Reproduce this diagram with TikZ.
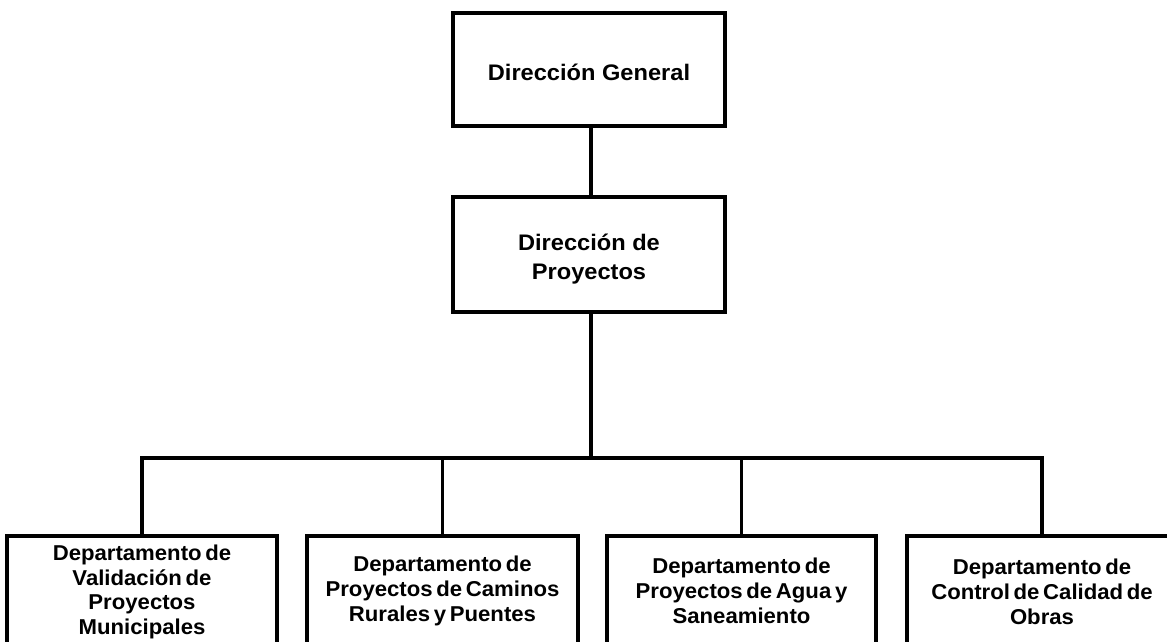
\documentclass[tikz,border=0pt]{standalone}
\usepackage{fontspec}
\setmainfont{Liberation Sans}[FakeStretch=1.05]
\newfontfamily\deptfont{Liberation Sans}[FakeStretch=1.03,WordSpace=0.6]
\begin{document}
\begin{tikzpicture}[x=1pt,y=-1pt,
  box/.style={draw=black,line width=3.8pt,fill=none,inner sep=0pt},
  toptext/.style={font=\fontsize{22.5}{29}\selectfont\bfseries,align=center},
  deptext/.style={font=\deptfont\fontsize{21.5}{24.8}\selectfont\bfseries,align=center},
  conn/.style={draw=black,line width=3.8pt}]
\useasboundingbox (0,0) rectangle (1167,642);
\clip (0,0) rectangle (1167,642);
% top boxes
\node[box,minimum width=272pt,minimum height=113pt] (g) at (589,69.5) {};
\node[toptext] (gt) at (589,72) {Dirección General};
\node[box,minimum width=272pt,minimum height=115pt] (p) at (589,254.5) {};
\node[toptext] (pt) at (589,259) {Dirección de\\Proyectos};
% bottom boxes (cut by the lower edge)
\node[box,anchor=north,minimum width=270pt,minimum height=140pt] (d1) at (142,534) {};
\node[box,anchor=north,minimum width=271pt,minimum height=140pt] (d2) at (442.5,534) {};
\node[box,anchor=north,minimum width=269pt,minimum height=140pt] (d3) at (741.5,534) {};
\node[box,anchor=north,minimum width=270pt,minimum height=140pt] (d4) at (1042,534) {};
\node[deptext] (t1) at (142,592) {Departamento de\\Validación de\\Proyectos\\Municipales};
\node[deptext] (t2) at (442.5,591) {Departamento de\\Proyectos de Caminos\\Rurales y Puentes};
\node[deptext] (t3) at (741.5,591) {Departamento de\\Proyectos de Agua y\\Saneamiento};
\node[deptext] (t4) at (1042,592) {Departamento de\\Control de Calidad de\\Obras};
% connectors
\coordinate (bus) at (591,458);
\draw[conn] (g.south -| 591,0) -- (p.north -| 591,0);
\draw[conn] (p.south -| 591,0) -- (bus);
\draw[conn] (d1.north) -- (d1.north |- bus) -- (d4.north |- bus) -- (d4.north);
\draw[conn] (d2.north) -- (d2.north |- bus);
\draw[conn] (d3.north) -- (d3.north |- bus);
\end{tikzpicture}
\end{document}
